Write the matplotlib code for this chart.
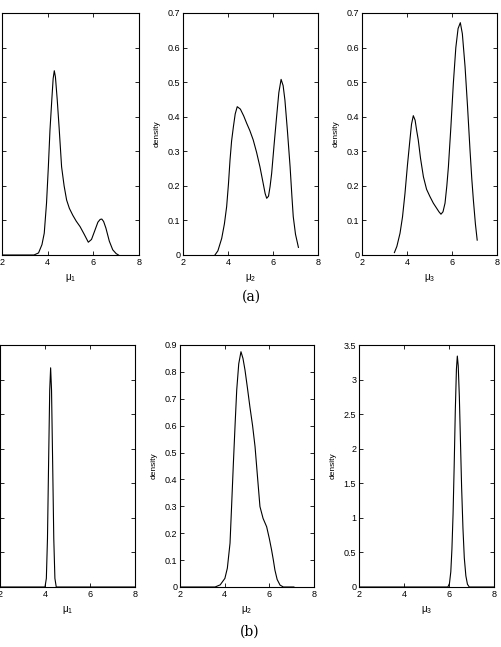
import matplotlib
matplotlib.use("Agg")
import matplotlib.pyplot as plt

# ---- data (posterior densities of mu_1..mu_3) ----
# (a) row
a_mu1_x = [2.0, 3.4, 3.6, 3.75, 3.85, 3.95, 4.03, 4.1, 4.18, 4.24, 4.29, 4.34, 4.42, 4.5, 4.61, 4.72,
           4.83, 4.95, 5.1, 5.25, 5.42, 5.6, 5.78, 5.92, 6.05, 6.2, 6.3, 6.37, 6.45, 6.55, 6.7, 6.85, 7.0, 7.1]
a_mu1_y = [0.0, 0.0, 0.006, 0.03, 0.063, 0.15, 0.255, 0.36, 0.448, 0.51, 0.533, 0.515, 0.448, 0.37, 0.255, 0.2,
           0.159, 0.135, 0.115, 0.098, 0.082, 0.06, 0.037, 0.045, 0.068, 0.095, 0.103, 0.104, 0.097, 0.078, 0.04, 0.015, 0.004, 0.0]

a_mu2_x = [3.42, 3.55, 3.72, 3.84, 3.94, 4.02, 4.09, 4.16, 4.24, 4.32, 4.41, 4.55, 4.7, 4.83, 4.97, 5.12, 5.27,
           5.42, 5.57, 5.65, 5.72, 5.8, 5.87, 5.94, 6.05, 6.16, 6.26, 6.36, 6.45, 6.53, 6.64, 6.76, 6.84, 6.9, 7.0, 7.13]
a_mu2_y = [0.0, 0.012, 0.048, 0.09, 0.14, 0.205, 0.275, 0.33, 0.371, 0.408, 0.429, 0.422, 0.402, 0.381, 0.36, 0.333, 0.297,
           0.255, 0.205, 0.178, 0.164, 0.17, 0.198, 0.236, 0.32, 0.4, 0.47, 0.508, 0.49, 0.448, 0.36, 0.255, 0.17, 0.111, 0.06, 0.022]

a_mu3_x = [3.44, 3.55, 3.69, 3.8, 3.91, 4.02, 4.13, 4.2, 4.28, 4.36, 4.43, 4.5, 4.6, 4.73, 4.87, 5.02, 5.17, 5.32,
           5.42, 5.51, 5.6, 5.69, 5.77, 5.84, 5.95, 6.06, 6.17, 6.27, 6.37, 6.46, 6.58, 6.69, 6.8, 6.88, 6.95, 7.04, 7.12]
a_mu3_y = [0.007, 0.025, 0.063, 0.11, 0.178, 0.26, 0.333, 0.378, 0.403, 0.39, 0.36, 0.333, 0.28, 0.226, 0.19, 0.169, 0.15, 0.135,
           0.125, 0.118, 0.125, 0.15, 0.2, 0.255, 0.37, 0.497, 0.6, 0.655, 0.672, 0.64, 0.545, 0.43, 0.304, 0.22, 0.159, 0.09, 0.043]

# (b) row
b_mu1_x = [2.0, 4.0, 4.06, 4.11, 4.16, 4.21, 4.25, 4.29, 4.34, 4.39, 4.44, 4.5, 8.0]
b_mu1_y = [0.0, 0.0, 0.25, 1.4, 3.6, 5.7, 6.34, 5.7, 3.6, 1.4, 0.25, 0.0, 0.0]

b_mu2_x = [2.0, 3.57, 3.8, 4.01, 4.12, 4.24, 4.31, 4.39, 4.47, 4.54, 4.63, 4.73, 4.82, 4.91, 5.02, 5.13, 5.25, 5.36,
           5.47, 5.58, 5.72, 5.88, 6.0, 6.1, 6.18, 6.25, 6.35, 6.48, 6.63, 7.1]
b_mu2_y = [0.0, 0.0, 0.008, 0.032, 0.07, 0.163, 0.3, 0.46, 0.61, 0.733, 0.83, 0.875, 0.85, 0.807, 0.74, 0.67, 0.6, 0.522,
           0.41, 0.299, 0.255, 0.224, 0.18, 0.138, 0.1, 0.063, 0.028, 0.007, 0.0, 0.0]

b_mu3_x = [2.0, 5.95, 6.02, 6.08, 6.13, 6.18, 6.23, 6.28, 6.33, 6.37, 6.41, 6.46, 6.51, 6.56, 6.62, 6.68, 6.75, 6.82, 6.9, 8.0]
b_mu3_y = [0.0, 0.0, 0.05, 0.22, 0.55, 1.05, 1.75, 2.55, 3.15, 3.34, 3.2, 2.75, 2.1, 1.45, 0.85, 0.42, 0.16, 0.04, 0.0, 0.0]

x_labels = [r"$\mathregular{\mu_1}$", r"$\mathregular{\mu_2}$", r"$\mathregular{\mu_3}$"]
xticks = [2, 4, 6, 8]
a_ylim = [0.7, 0.7, 0.7]
b_ylim = [7.0, 0.9, 3.5]
a_yticks = [[0, 0.1, 0.2, 0.3, 0.4, 0.5, 0.6, 0.7]] * 3
b_yticks = [[0, 1, 2, 3, 4, 5, 6, 7],
            [0, 0.1, 0.2, 0.3, 0.4, 0.5, 0.6, 0.7, 0.8, 0.9],
            [0, 0.5, 1, 1.5, 2, 2.5, 3, 3.5]]

plt.rcParams['font.family'] = ['Liberation Sans', 'DejaVu Sans']
plt.rcParams['mathtext.fontset'] = 'custom'
plt.rcParams['mathtext.rm'] = 'Liberation Sans'
plt.rcParams['mathtext.it'] = 'Liberation Sans'

fig = plt.figure(figsize=(5.02, 6.47), dpi=100)

# axes boxes measured in pixels from the reference
H = 242 / 647
top_boxes = [(2 / 502, 1 - 255 / 647, 137 / 502, H),
             (183 / 502, 1 - 255 / 647, 135 / 502, H),
             (362 / 502, 1 - 255 / 647, 135 / 502, H)]
bot_boxes = [(0 / 502, 1 - 587 / 647, 135 / 502, H),
             (180 / 502, 1 - 587 / 647, 134 / 502, H),
             (359 / 502, 1 - 587 / 647, 135 / 502, H)]

a_data = [(a_mu1_x, a_mu1_y), (a_mu2_x, a_mu2_y), (a_mu3_x, a_mu3_y)]
b_data = [(b_mu1_x, b_mu1_y), (b_mu2_x, b_mu2_y), (b_mu3_x, b_mu3_y)]


def draw_panel(box, xy, ymax, yt, xlab):
    ax = fig.add_axes(box)
    ax.plot(xy[0], xy[1], color='black', lw=0.8)
    ax.set_xlim(2, 8)
    ax.set_ylim(0, ymax)
    ax.set_xticks(xticks)
    ax.set_yticks(yt)
    ax.set_yticklabels([f"{v:g}" for v in yt])
    ax.tick_params(direction='in', length=3, width=0.6, top=True, right=True,
                   labelsize=6.5, pad=2)
    for s in ax.spines.values():
        s.set_linewidth(0.8)
    ax.set_xlabel(xlab, fontsize=7, labelpad=4)
    ax.set_ylabel("density", fontsize=6, labelpad=5)
    return ax


for i in range(3):
    draw_panel(top_boxes[i], a_data[i], a_ylim[i], a_yticks[i], x_labels[i])
    draw_panel(bot_boxes[i], b_data[i], b_ylim[i], b_yticks[i], x_labels[i])

fig.text(251 / 502, 1 - 297 / 647, "(a)", ha='center', va='center',
         fontsize=10, family='DejaVu Serif')
fig.text(250 / 502, 1 - 632 / 647, "(b)", ha='center', va='center',
         fontsize=10, family='DejaVu Serif')

fig.savefig("out.png", dpi=100)
